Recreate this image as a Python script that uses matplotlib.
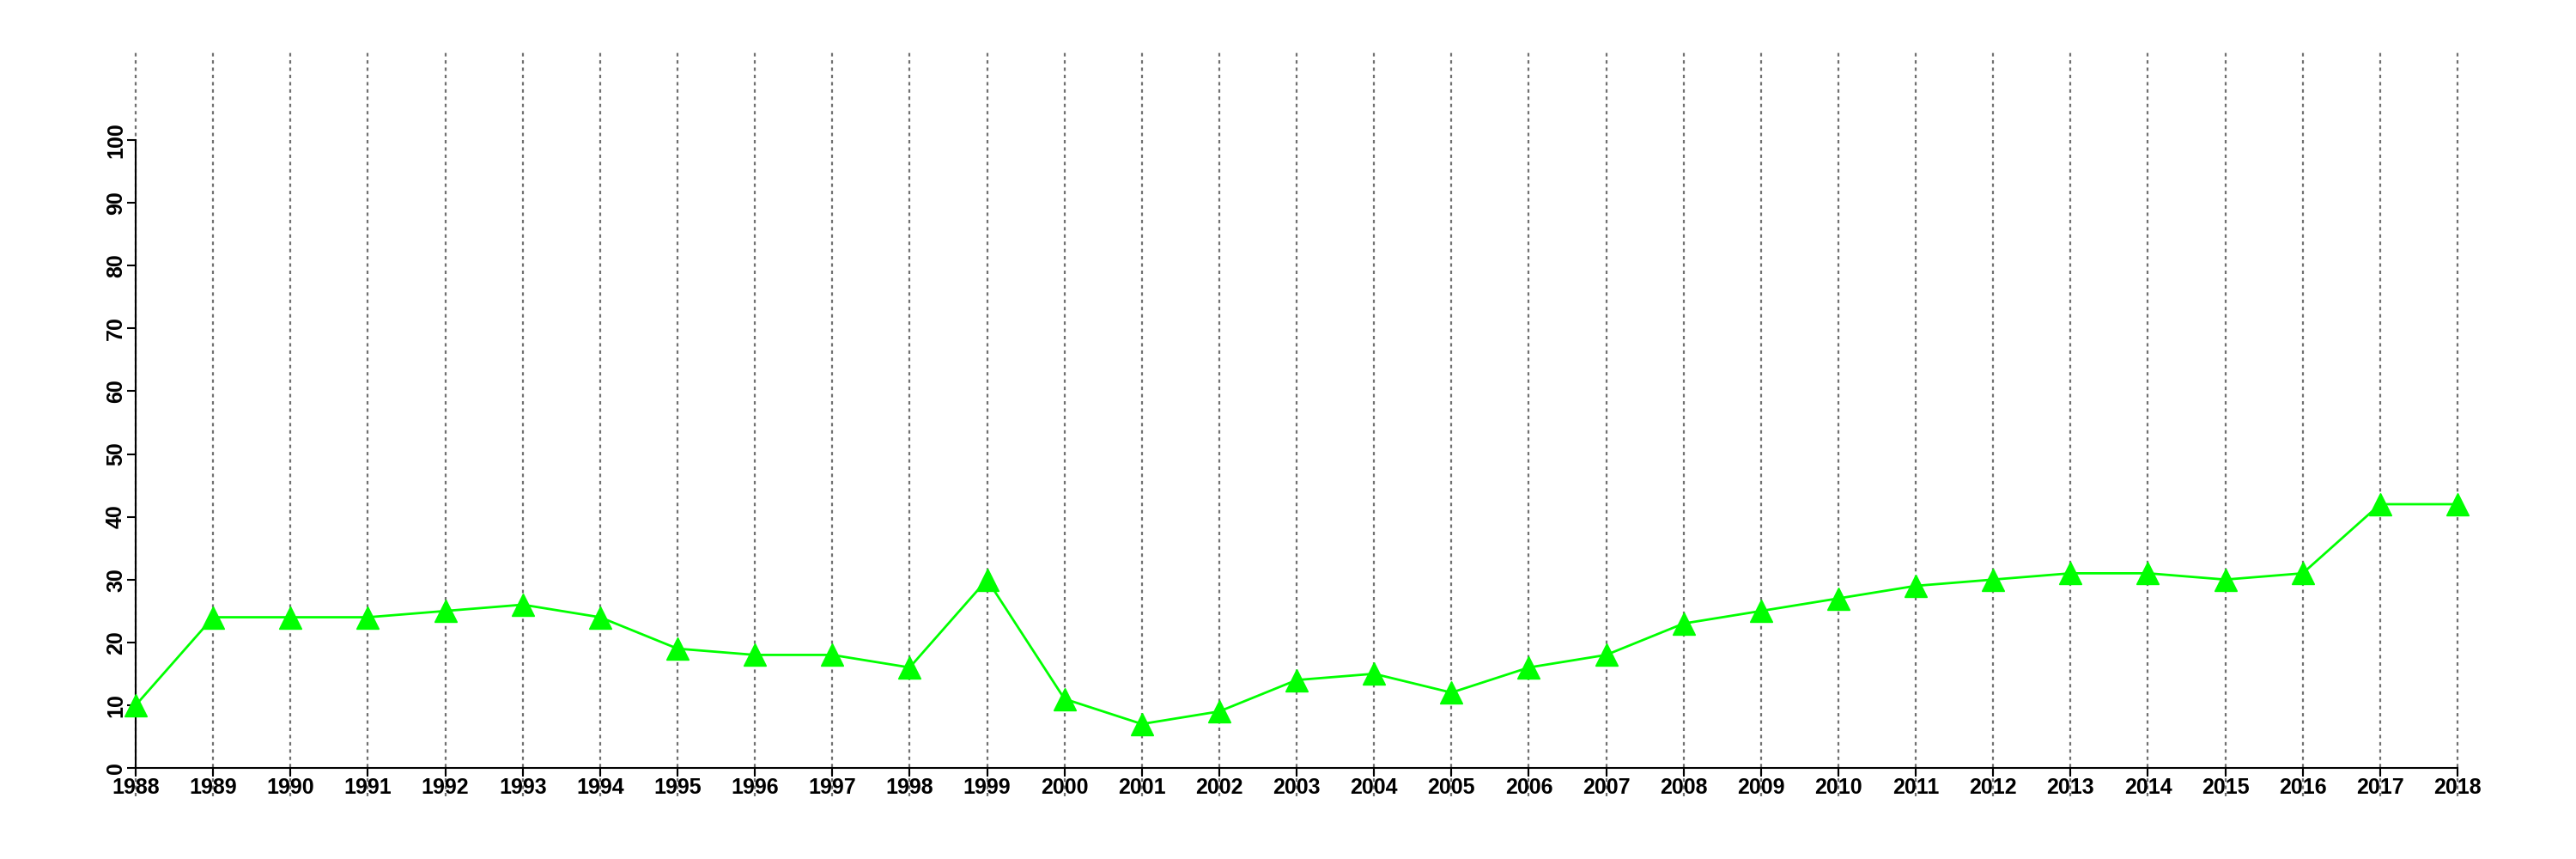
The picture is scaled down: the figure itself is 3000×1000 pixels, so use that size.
import numpy
from matplotlib import pyplot

years = list(range(1988, 2019))
values = [10, 24, 24, 24, 25, 26, 24, 19, 18, 18, 16, 30, 11, 7, 9,
          14, 15, 12, 16, 18, 23, 25, 27, 29, 30, 31, 31, 30, 31, 42, 42]
y_ticks = list(range(0, 101, 10))

pyplot.rcParams['font.family'] = ['Liberation Sans', 'DejaVu Sans']

fig = pyplot.figure(figsize=(30, 10), dpi=100)
ax = fig.add_axes([0.0527, 0.106, 0.9013, 0.731])

# dotted year lines run past the axes, top and bottom
ax.vlines(years, -4.5, 114, colors='#707070', linestyles=(0, (1.8, 2.0)),
          linewidth=1.6, clip_on=False, zorder=1)

ax.plot(years, values, color='#00ff00', linewidth=2, marker='^',
        markersize=19, markeredgecolor='#00ff00', clip_on=False, zorder=3)

ax.set_xlim(1988, 2018)
ax.set_ylim(0, 100)
ax.set_xticks(years)
ax.set_yticks(y_ticks)
for lab in ax.get_yticklabels():
    lab.set_rotation(90)
    lab.set_va('center')
ax.tick_params(axis='both', direction='out', length=7, width=1.5,
               labelsize=18, pad=1)
for lab in ax.get_xticklabels() + ax.get_yticklabels():
    lab.set_fontweight('bold')

for side in ['top', 'right']:
    ax.spines[side].set_visible(False)
for side in ['left', 'bottom']:
    ax.spines[side].set_linewidth(1.5)

pyplot.savefig('out.png', dpi=100)
